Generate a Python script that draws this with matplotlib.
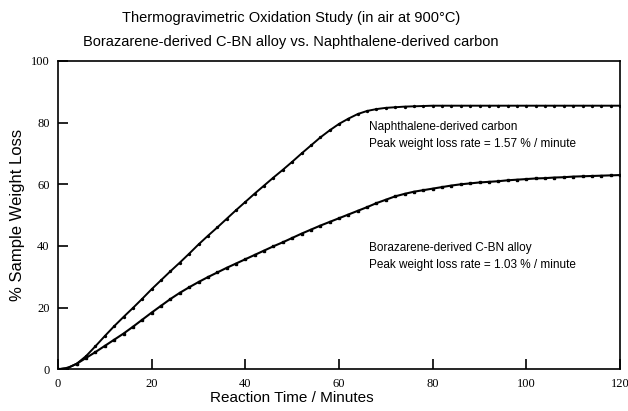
import matplotlib
matplotlib.use("Agg")
import matplotlib.pyplot as plt
from matplotlib import font_manager

# --- DATA ---
time_min = [0, 2, 4, 6, 8, 10, 12, 14, 16, 18, 20, 22, 24, 26, 28, 30, 32, 34, 36, 38,
            40, 42, 44, 46, 48, 50, 52, 54, 56, 58, 60, 62, 64, 66, 68, 70, 72, 74, 76, 78,
            80, 82, 84, 86, 88, 90, 92, 94, 96, 98, 100, 102, 104, 106, 108, 110, 112, 114,
            116, 118, 120]

naphthalene = [0.0, 0.4, 1.8, 4.3, 7.5, 10.8, 14.0, 17.0, 19.9, 22.9, 26.0, 28.9, 31.8,
               34.6, 37.5, 40.5, 43.3, 46.0, 48.8, 51.6, 54.3, 57.0, 59.6, 62.2, 64.7,
               67.3, 70.0, 72.6, 75.2, 77.5, 79.6, 81.3, 82.8, 83.8, 84.4, 84.8, 85.0,
               85.2, 85.3, 85.4, 85.5, 85.5, 85.5, 85.5, 85.5, 85.5, 85.5, 85.5, 85.5,
               85.5, 85.5, 85.5, 85.5, 85.5, 85.5, 85.5, 85.5, 85.5, 85.5, 85.5, 85.5]

borazarene = [0.0, 0.4, 1.8, 3.7, 5.6, 7.6, 9.6, 11.6, 13.8, 16.1, 18.4, 20.6, 22.8,
              24.8, 26.6, 28.3, 29.9, 31.4, 32.9, 34.3, 35.7, 37.1, 38.5, 39.9, 41.2,
              42.6, 44.0, 45.3, 46.6, 47.8, 49.0, 50.2, 51.4, 52.6, 53.9, 55.0, 56.1,
              56.9, 57.6, 58.1, 58.6, 59.1, 59.6, 60.0, 60.3, 60.6, 60.8, 61.0, 61.3,
              61.5, 61.7, 61.9, 62.0, 62.2, 62.3, 62.5, 62.6, 62.7, 62.8, 62.9, 63.0]

x_ticks = [0, 20, 40, 60, 80, 100, 120]
y_ticks = [0, 20, 40, 60, 80, 100]

# --- FONTS ---
installed = {f.name for f in font_manager.fontManager.ttflist}
sans = "Liberation Sans Narrow" if "Liberation Sans Narrow" in installed else "Liberation Sans"
serif = "Liberation Serif"

fig = plt.figure(figsize=(6.28, 4.11), dpi=100)
ax = fig.add_axes([0.0924, 0.1015, 0.8949, 0.7501])

ax.plot(time_min, naphthalene, color="black", linewidth=1.4, marker="o", markersize=1.4)
ax.plot(time_min, borazarene, color="black", linewidth=1.5, marker="s", markersize=1.8)

ax.set_xlim(0, 120)
ax.set_ylim(0, 100)
ax.set_xticks(x_ticks)
ax.set_yticks(y_ticks)
ax.tick_params(direction="in", length=7, width=1.2, top=False, right=False, pad=6)
for lab in ax.get_xticklabels() + ax.get_yticklabels():
    lab.set_fontfamily(serif)
    lab.set_fontsize(9)
for sp in ax.spines.values():
    sp.set_linewidth(1.2)

# x label sits left of the axes centre in the reference
ax.set_xlabel("Reaction Time / Minutes", fontfamily=sans, fontsize=11, labelpad=1)
ax.xaxis.set_label_coords(0.416, -0.072)
ax.set_ylabel("% Sample Weight Loss", fontfamily=sans, fontsize=12, labelpad=4)

fig.text(0.463, 0.956, "Thermogravimetric Oxidation Study (in air at 900°C)",
         ha="center", va="center", fontfamily=sans, fontsize=10.5)
fig.text(0.463, 0.898, "Borazarene-derived C-BN alloy vs. Naphthalene-derived carbon",
         ha="center", va="center", fontfamily=sans, fontsize=10.5)

ax.text(66.4, 75.9, "Naphthalene-derived carbon\nPeak weight loss rate = 1.57 % / minute",
        fontfamily=sans, fontsize=8.5, va="center", ha="left", linespacing=1.5)
ax.text(66.4, 36.6, "Borazarene-derived C-BN alloy\nPeak weight loss rate = 1.03 % / minute",
        fontfamily=sans, fontsize=8.5, va="center", ha="left", linespacing=1.5)

fig.savefig("out.png", dpi=100)
